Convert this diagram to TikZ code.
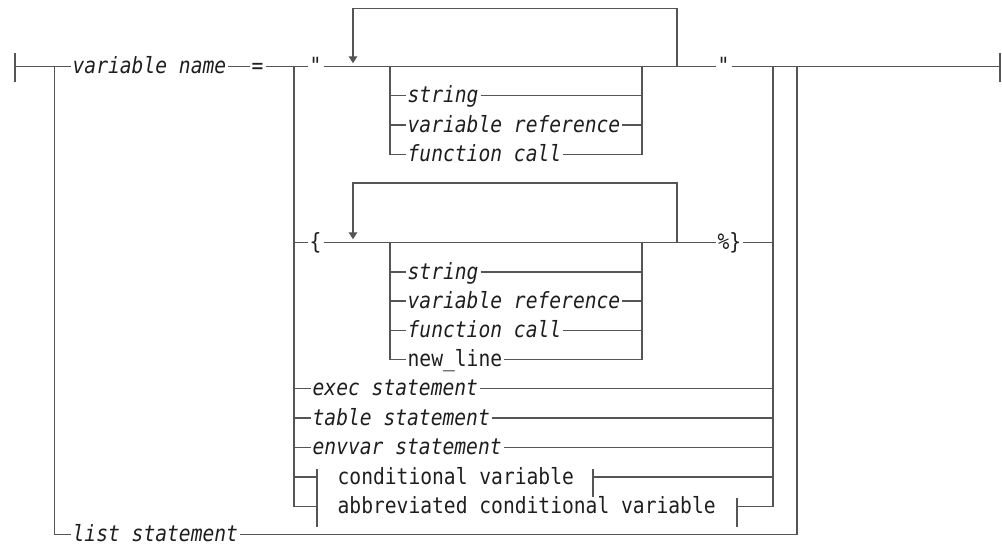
\documentclass[tikz,border=0pt]{standalone}
\usepackage{fontspec}
\newfontfamily\railfont{DejaVu Sans Mono}[FakeStretch=0.88]
\usetikzlibrary{arrows.meta}
\definecolor{railgray}{RGB}{85,85,85}
\definecolor{railtext}{RGB}{30,30,30}
\newcommand{\railsize}{\fontsize{22.3pt}{24pt}\selectfont}

\begin{document}
\begin{tikzpicture}[x=1pt,y=-1pt,line width=1.3pt]
    \tikzstyle{rail}=[draw=railgray]
    \tikzstyle{loop}=[rail, -{Triangle[width=8.5pt,length=7pt]}]
    \tikzstyle{var}=[anchor=west, inner xsep=1.5pt, inner ysep=0pt, text height=14pt, text depth=0pt, text=railtext, font=\railsize\railfont\itshape]
    \tikzstyle{kw}=[var, font=\railsize\railfont\upshape]

    \useasboundingbox (0,0) rectangle (1002,544);

    \coordinate (start) at (15,66.7);
    \coordinate (startT) at (15,53);
    \coordinate (startB) at (15,82);
    \coordinate (fin) at (1000,66.7);
    \coordinate (finT) at (1000,53);
    \coordinate (finB) at (1000,82);
    \coordinate (jL) at (54.5,66.7);
    \coordinate (jA) at (294,66.7);
    \coordinate (jB) at (773,66.7);
    \coordinate (jR) at (797,66.7);

    \node[var] (vname) at (70.5,66.7) {variable name};
    \node[kw]  (eq)    at (249.5,66.7) {=};
    \node[var] (q1)    at (307.5,66.7) {"};
    \node[var] (q2)    at (715.5,66.7) {"};

    \draw[rail] (startT) -- (startB) (finT) -- (finB);
    \draw[rail] (start) -- (vname.west) (vname.east) -- (eq.west)
        (eq.east) -- (q1.west) (q1.east) -- (q2.west) (q2.east) -- (fin);

    % quoted string
    \coordinate (l1R) at (677,66.7);
    \coordinate (l1T) at (353,8.3);
    \coordinate (l1Tip) at (353,63.3);
    \draw[loop] (l1R) |- (l1T) -- (l1Tip);
    \coordinate (c1L) at (390,66.7);
    \coordinate (c1R) at (642,66.7);
    \node[var] (s1) at (405.5,95.5) {string};
    \node[var] (v1) at (405.5,125) {variable reference};
    \node[var] (f1) at (405.5,154.5) {function call};
    \draw[rail] (c1L) |- (f1.west) (f1.east) -| (c1R);
    \foreach \n in {s1,v1}
        \draw[rail] (\n.west -| c1L) -- (\n.west) (\n.east) -- (\n.east -| c1R);

    % braced string
    \node[kw] (lbrace) at (307.5,242.7) {\{};
    \node[kw] (rbrace) at (715.5,242.7) {\%\}};
    \draw[rail] (lbrace.west -| jA) -- (lbrace.west) (lbrace.east) -- (rbrace.west)
        (rbrace.east) -- (rbrace.east -| jB);
    \coordinate (l2R) at (677,242.7);
    \coordinate (l2T) at (353,183);
    \coordinate (l2Tip) at (353,239.3);
    \draw[loop] (l2R) |- (l2T) -- (l2Tip);
    \coordinate (c2L) at (390,242.7);
    \coordinate (c2R) at (642,242.7);
    \node[var] (s2) at (405.5,272) {string};
    \node[var] (v2) at (405.5,301) {variable reference};
    \node[var] (f2) at (405.5,330.5) {function call};
    \node[kw]  (n2) at (405.5,359.5) {new\_line};
    \draw[rail] (c2L) |- (n2.west) (n2.east) -| (c2R);
    \foreach \n in {s2,v2,f2}
        \draw[rail] (\n.west -| c2L) -- (\n.west) (\n.east) -- (\n.east -| c2R);

    % statements
    \node[var] (ex) at (310.5,388.5) {exec statement};
    \node[var] (tb) at (310.5,418) {table statement};
    \node[var] (ev) at (310.5,447.5) {envvar statement};
    \foreach \n in {ex,tb,ev}
        \draw[rail] (\n.west -| jA) -- (\n.west) (\n.east) -- (\n.east -| jB);

    % fragments
    \node[kw] (cv)  at (335.5,477) {conditional variable};
    \node[kw] (acv) at (335.5,506.7) {abbreviated conditional variable};
    \coordinate (fragT) at (317,469);
    \coordinate (fragB) at (317,527);
    \coordinate (cvT) at (593,469);
    \coordinate (cvB) at (593,497.3);
    \coordinate (acvT) at (737,498.3);
    \coordinate (acvB) at (737,526.7);
    \draw[rail] (fragT) -- (fragB) (cvT) -- (cvB) (acvT) -- (acvB);
    \draw[rail] (cv.west -| jA) -- (cv.west -| fragT) (cv.east -| cvT) -- (cv.east -| jB);
    \draw[rail] (acv.west -| jA) -- (acv.west -| fragT) (acv.east -| acvT) -- (acv.east -| jB);

    \draw[rail] (jA) -- (acv.west -| jA);
    \draw[rail] (jB) -- (acv.east -| jB);

    \node[var] (ls) at (70.5,534.5) {list statement};
    \draw[rail] (jL) |- (ls.west) (ls.east) -| (jR);

\end{tikzpicture}
\end{document}
